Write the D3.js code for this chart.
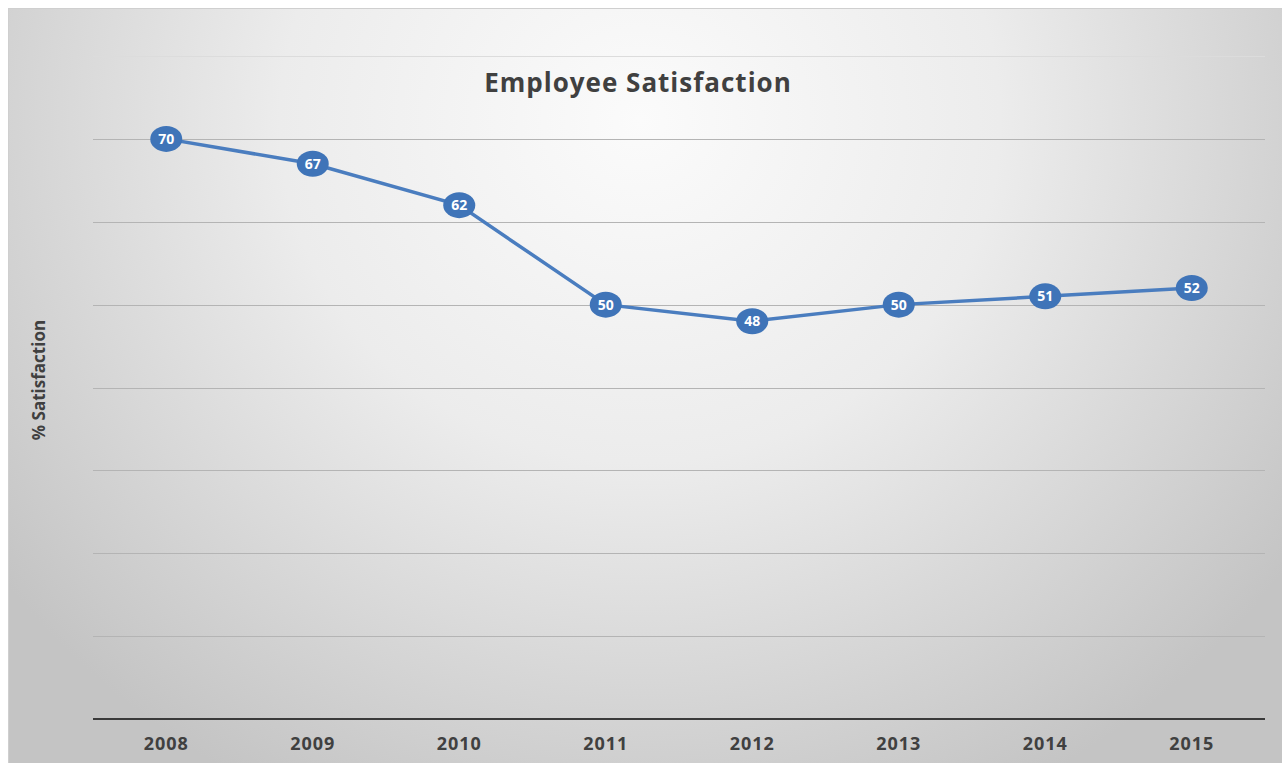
<!DOCTYPE html>
<html><head><meta charset="utf-8">
<script src="https://cdn.jsdelivr.net/npm/d3@7/dist/d3.min.js"></script>
<style>html,body{margin:0;padding:0;background:#fff;overflow:hidden}</style>
</head><body>
<svg id="c" width="1282" height="763"></svg>
<script>
const years = ["2008","2009","2010","2011","2012","2013","2014","2015"];
const satisfaction = [70,67,62,50,48,50,51,52];
const gridTicks = [0,10,20,30,40,50,60,70,80];
const title = "Employee Satisfaction";
const yTitle = "% Satisfaction";

const svg = d3.select("#c");
const defs = svg.append("defs");
const g = defs.append("radialGradient").attr("id","bg")
  .attr("gradientUnits","userSpaceOnUse").attr("cx",640).attr("cy",120).attr("r",800)
  .attr("gradientTransform","translate(640,120) scale(1,0.95) translate(-640,-120)");
g.append("stop").attr("offset","0").attr("stop-color","#fbfbfb");
g.append("stop").attr("offset","0.45").attr("stop-color","#ececec");
g.append("stop").attr("offset","1").attr("stop-color","#c4c4c4");

svg.append("rect").attr("x",8).attr("y",8).attr("width",1274).attr("height",755).attr("fill","url(#bg)");
svg.append("line").attr("x1",8).attr("x2",1282).attr("y1",8.5).attr("y2",8.5).attr("stroke","#cfcfcf");
svg.append("line").attr("x1",8.5).attr("x2",8.5).attr("y1",8).attr("y2",763).attr("stroke","#cfcfcf");

const mLeft=93, mRight=1265, mTop=56, mBottom=719;
const x = d3.scaleBand().domain(years).range([mLeft,mRight]);
const y = d3.scaleLinear().domain([0,80]).range([mBottom,mTop]);

// gridlines
svg.append("g").selectAll("line").data(gridTicks.filter(d=>d>0)).join("line")
  .attr("x1",mLeft).attr("x2",mRight)
  .attr("y1",d=>Math.round(y(d))+0.5).attr("y2",d=>Math.round(y(d))+0.5)
  .attr("stroke",d=>d===80?"#dcdcdc":"#b4b4b4").attr("stroke-width",1);

// x axis
const xa = svg.append("g").attr("transform",`translate(0,${mBottom})`)
  .call(d3.axisBottom(x).tickSize(0).tickPadding(18));
xa.select(".domain").attr("stroke","#3a3a3a").attr("stroke-width",2.2).attr("d",`M${mLeft},0H${mRight}`);
xa.selectAll("text").attr("font-family","'Open Sans',sans-serif").attr("font-weight","bold")
  .attr("font-size",18).attr("letter-spacing","1px").attr("fill","#404040");

// title
svg.append("text").attr("x",638).attr("y",92).attr("text-anchor","middle")
  .attr("font-family","'Open Sans',sans-serif").attr("font-weight","bold").attr("font-size",26)
  .attr("letter-spacing","1px").attr("fill","#404040").text(title);

// y title
svg.append("text").attr("transform","translate(45,380) rotate(-90)").attr("text-anchor","middle")
  .attr("font-family","'Liberation Sans Narrow','Open Sans',sans-serif").attr("font-weight","bold").attr("font-size",17)
  .attr("fill","#404040").text(yTitle);

// line
const data = years.map((yr,i)=>({yr, v:satisfaction[i]}));
const cx = d=>x(d.yr)+x.bandwidth()/2;
svg.append("path").datum(data).attr("fill","none").attr("stroke","#4a7dbf").attr("stroke-width",3.5)
  .attr("d",d3.line().x(cx).y(d=>y(d.v)));

const pts = svg.append("g").selectAll("g").data(data).join("g")
  .attr("transform",d=>`translate(${cx(d)},${y(d.v)})`);
pts.append("ellipse").attr("rx",16).attr("ry",13).attr("fill","#3f74b8");
pts.append("text").attr("text-anchor","middle").attr("dy","0.36em")
  .attr("font-family","'Open Sans',sans-serif").attr("font-weight","bold").attr("font-size",14)
  .attr("fill","#ffffff").text(d=>d.v);
</script>
</body></html>
